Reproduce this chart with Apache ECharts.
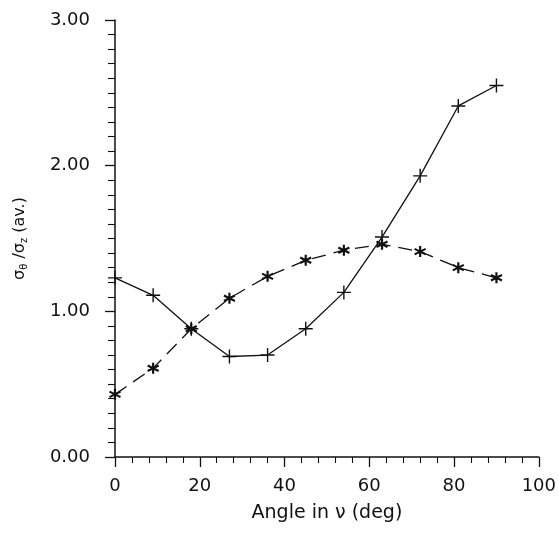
<!DOCTYPE html>
<html>
<head>
<meta charset="utf-8">
<script src="https://cdn.jsdelivr.net/npm/echarts@6/dist/echarts.min.js"></script>
<style>
  html, body { margin: 0; padding: 0; background: #fff; }
  #chart { width: 559px; height: 535px; }
</style>
</head>
<body>
<div id="chart"></div>
<script>
// Valores
const angles = [0, 9, 18, 27, 36, 45, 54, 63, 72, 81, 90];
const solidValues = [1.23, 1.11, 0.88, 0.69, 0.70, 0.88, 1.13, 1.51, 1.93, 2.41, 2.55];
const dashedValues = [0.43, 0.61, 0.88, 1.09, 1.24, 1.35, 1.42, 1.46, 1.41, 1.30, 1.23];

const FONT = '"DejaVu Sans", sans-serif';
const INK = '#111';

// Marcadores: cruz e asterisco
const PLUS = 'path://M5,0L5,10M0,5L10,5';
const STAR = 'path://M5,0L5,10M0.7,2.5L9.3,7.5M0.7,7.5L9.3,2.5';

const chart = echarts.init(document.getElementById('chart'));

const option = {
    backgroundColor: '#fff',
    animation: false,
    grid: {
        left: 115,
        right: 15,
        top: 20,
        bottom: 78
    },
    xAxis: {
        type: 'value',
        min: 0,
        max: 100,
        interval: 20,
        name: 'Angle in ν (deg)',
        nameLocation: 'middle',
        nameGap: 47,
        nameTextStyle: { color: INK, fontSize: 19, fontFamily: FONT },
        axisLine: { lineStyle: { color: INK, width: 1.5 } },
        axisTick: { length: 10, lineStyle: { color: INK, width: 1.3 } },
        minorTick: { show: true, splitNumber: 5, length: 6, lineStyle: { color: INK, width: 1.1 } },
        axisLabel: { color: INK, fontSize: 18, fontFamily: FONT, margin: 20 },
        splitLine: { show: false }
    },
    yAxis: {
        type: 'value',
        min: 0,
        max: 3,
        interval: 1,
        name: '{a|σ}{s|θ}{a| /σ}{s|z}{a| (av.)}',
        nameLocation: 'middle',
        nameGap: 86,
        nameTextStyle: {
            color: INK,
            fontFamily: FONT,
            rich: {
                a: { fontSize: 16, lineHeight: 19, color: INK, fontFamily: FONT },
                s: { fontSize: 10, lineHeight: 10, verticalAlign: 'bottom', color: INK, fontFamily: FONT }
            }
        },
        axisLine: { lineStyle: { color: INK, width: 1.5 } },
        axisTick: { length: 10, lineStyle: { color: INK, width: 1.3 } },
        minorTick: { show: true, splitNumber: 10, length: 7, lineStyle: { color: INK, width: 1.1 } },
        axisLabel: {
            color: INK,
            fontSize: 18,
            fontFamily: FONT,
            margin: 25,
            formatter: v => v.toFixed(2)
        },
        splitLine: { show: false }
    },
    series: [{
        type: 'line',
        data: angles.map((a, i) => [a, solidValues[i]]),
        symbol: PLUS,
        symbolSize: 14,
        lineStyle: { color: INK, width: 1.3 },
        itemStyle: { color: INK, borderColor: INK, borderWidth: 1.4 }
    }, {
        type: 'line',
        data: angles.map((a, i) => [a, dashedValues[i]]),
        symbol: STAR,
        symbolSize: 11,
        lineStyle: { color: INK, width: 1.3, type: [14, 8] },
        itemStyle: { color: INK, borderColor: INK, borderWidth: 2.2 }
    }]
};

chart.setOption(option);
</script>
</body>
</html>
